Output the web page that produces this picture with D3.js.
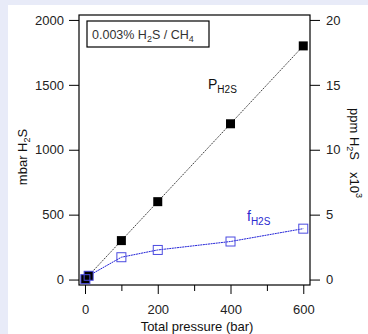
<!DOCTYPE html>
<html>
<head>
<meta charset="utf-8">
<script src="https://cdn.jsdelivr.net/npm/d3@7"></script>
<style>
  body { margin: 0; background: #e8ebf8; }
  text { font-family: "Liberation Sans", Arial, sans-serif; }
  .axis text { font-size: 13px; fill: #222; }
  .axis line { stroke: #000; stroke-width: 1; }
</style>
</head>
<body>
<svg id="chart" width="368" height="334"></svg>
<script>
// data
var pressure = [1, 10, 100, 200, 400, 600];
var pH2S = [3, 30, 300, 600, 1200, 1800];
var fH2S = [3, 29, 172, 228, 293, 392];
var xTicks = [0, 200, 400, 600];
var xMinor = [100, 300, 500];
var yTicks = [0, 500, 1000, 1500, 2000];
var y2Ticks = [0, 5, 10, 15, 20];

var svg = d3.select('#chart');

// white panel
svg.append('rect')
  .attr('x', 8).attr('y', 5)
  .attr('width', 360).attr('height', 329)
  .attr('fill', '#fff');

var frame = {left: 79, right: 310, top: 15, bottom: 285};

var x = d3.scaleLinear().domain([-16.5, 618.5]).range([frame.left, frame.right]);
var y = d3.scaleLinear().domain([-42, 2038]).range([frame.bottom, frame.top]);
var y2 = d3.scaleLinear().domain([-0.42, 20.38]).range([frame.bottom, frame.top]);

// frame
svg.append('rect')
  .attr('x', frame.left).attr('y', frame.top)
  .attr('width', frame.right - frame.left)
  .attr('height', frame.bottom - frame.top)
  .attr('fill', 'none')
  .attr('stroke', '#000')
  .attr('stroke-width', 1.2);

// axes
var gx = svg.append('g').attr('class', 'axis')
  .attr('transform', 'translate(0,' + frame.bottom + ')')
  .call(d3.axisBottom(x).tickValues(xTicks).tickSize(9).tickPadding(11).tickFormat(d3.format('d')));
gx.select('.domain').remove();

var gxm = svg.append('g').attr('class', 'axis')
  .attr('transform', 'translate(0,' + frame.bottom + ')')
  .call(d3.axisBottom(x).tickValues(xMinor).tickSize(6).tickFormat(''));
gxm.select('.domain').remove();

var gy = svg.append('g').attr('class', 'axis')
  .attr('transform', 'translate(' + frame.left + ',0)')
  .call(d3.axisLeft(y).tickValues(yTicks).tickSize(10).tickPadding(5).tickFormat(d3.format('d')));
gy.select('.domain').remove();

var gy2 = svg.append('g').attr('class', 'axis')
  .attr('transform', 'translate(' + frame.right + ',0)')
  .call(d3.axisRight(y2).tickValues(y2Ticks).tickSize(10).tickPadding(6).tickFormat(d3.format('d')));
gy2.select('.domain').remove();

// lines
var line = d3.line()
  .x(function(d) { return x(d[0]); })
  .y(function(d) { return y(d[1]); });

var pData = pressure.map(function(p, i) { return [p, pH2S[i]]; });
var fData = pressure.map(function(p, i) { return [p, fH2S[i]]; });

svg.append('path')
  .datum(pData)
  .attr('d', line)
  .attr('fill', 'none')
  .attr('stroke', '#222')
  .attr('stroke-width', 0.9)
  .attr('stroke-dasharray', '1.5,1');

svg.append('path')
  .datum(fData)
  .attr('d', line)
  .attr('fill', 'none')
  .attr('stroke', '#2424d8')
  .attr('stroke-width', 1)
  .attr('stroke-dasharray', '2,0.6');

// markers
svg.selectAll('.pt')
  .data(pData)
  .enter().append('rect')
  .attr('class', 'pt')
  .attr('x', function(d) { return x(d[0]) - 4.5; })
  .attr('y', function(d) { return y(d[1]) - 4.5; })
  .attr('width', 9).attr('height', 9)
  .attr('fill', '#000');

svg.selectAll('.ft')
  .data(fData)
  .enter().append('rect')
  .attr('class', 'ft')
  .attr('x', function(d) { return x(d[0]) - 4.5; })
  .attr('y', function(d) { return y(d[1]) - 4.5; })
  .attr('width', 9).attr('height', 9)
  .attr('fill', 'none')
  .attr('stroke', '#4b4be0')
  .attr('stroke-width', 1);

// annotation box
svg.append('rect')
  .attr('x', 87).attr('y', 21)
  .attr('width', 122).attr('height', 26)
  .attr('fill', '#fff')
  .attr('stroke', '#000')
  .attr('stroke-width', 1.2);

var note = svg.append('text')
  .attr('x', 92).attr('y', 38.5)
  .style('font-size', '12.5px')
  .attr('fill', '#333');
note.append('tspan').text('0.003% H');
note.append('tspan').attr('dy', 3).style('font-size', '9px').text('2');
note.append('tspan').attr('dy', -3).text('S / CH');
note.append('tspan').attr('dy', 3).style('font-size', '9px').text('4');

// series labels
var pl = svg.append('text').attr('x', 208).attr('y', 89)
  .style('font-size', '14px').attr('fill', '#111');
pl.append('tspan').text('P');
pl.append('tspan').attr('dy', 4).style('font-size', '10px').text('H2S');

var fl = svg.append('text').attr('x', 247).attr('y', 221)
  .style('font-size', '14px').attr('fill', '#2a2ad0');
fl.append('tspan').text('f');
fl.append('tspan').attr('dy', 4).style('font-size', '10px').text('H2S');

// axis titles
var yl = svg.append('text')
  .attr('transform', 'translate(27,157) rotate(-90)')
  .attr('text-anchor', 'middle')
  .style('font-size', '13px').attr('fill', '#111');
yl.append('tspan').text('mbar H');
yl.append('tspan').attr('dy', 3).style('font-size', '9px').text('2');
yl.append('tspan').attr('dy', -3).text('S');

var yr = svg.append('text')
  .attr('transform', 'translate(350,108) rotate(90)')
  .attr('text-anchor', 'start')
  .style('font-size', '13px').attr('fill', '#111');
yr.append('tspan').text('ppm H');
yr.append('tspan').attr('dy', 3).style('font-size', '9px').text('2');
yr.append('tspan').attr('dy', -3).text('S');
yr.append('tspan').attr('dx', 12).text('x10');
yr.append('tspan').attr('dy', -6).style('font-size', '9px').text('3');

svg.append('text')
  .attr('x', 197).attr('y', 331)
  .attr('text-anchor', 'middle')
  .style('font-size', '13px').attr('fill', '#111')
  .text('Total pressure (bar)');
</script>
</body>
</html>
